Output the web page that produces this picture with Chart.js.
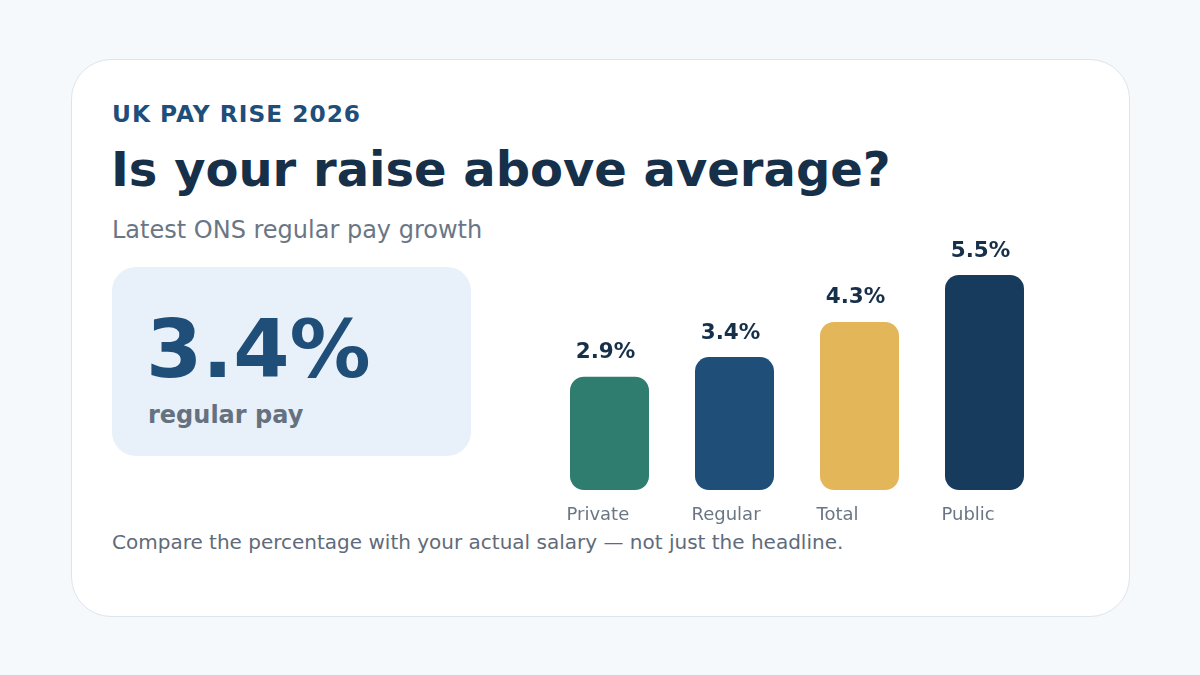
<!DOCTYPE html>
<html>
<head>
<meta charset="utf-8">
<script src="https://cdn.jsdelivr.net/npm/chart.js@4"></script>
<style>
  body { margin:0; width:1200px; height:675px; background:#f5f9fc; font-family:"DejaVu Sans", sans-serif; position:relative; overflow:hidden; }
  .card { position:absolute; left:71px; top:59px; width:1057px; height:556px; background:#fff; border:1px solid #dde5ec; border-radius:40px; }
  .kicker { position:absolute; left:112px; top:100px; font-size:23.3px; font-weight:bold; color:#1f4e79; letter-spacing:1px; }
  .title { position:absolute; left:111px; top:141px; font-size:48px; font-weight:bold; color:#17304a; }
  .sub { position:absolute; left:112px; top:216px; font-size:24px; color:#6b7685; }
  .box { position:absolute; left:112px; top:267px; width:359px; height:189px; background:#e8f1f9; border-radius:24px; }
  .big { position:absolute; left:146px; top:309px; font-size:81px; font-weight:bold; color:#1f4e79; line-height:1; }
  .reg { position:absolute; left:148px; top:401px; font-size:24px; font-weight:bold; color:#667180; }
  .foot { position:absolute; left:112px; top:530px; font-size:20px; color:#5f6b7a; }
  #c { position:absolute; left:547px; top:240px; }
</style>
</head>
<body>
<div class="card"></div>
<div class="kicker">UK PAY RISE 2026</div>
<div class="title">Is your raise above average?</div>
<div class="sub">Latest ONS regular pay growth</div>
<div class="box"></div>
<div class="big">3.4%</div>
<div class="reg">regular pay</div>
<div class="foot">Compare the percentage with your actual salary — not just the headline.</div>
<canvas id="c" width="500" height="290"></canvas>
<script>
// chart data
const categories = ["Private", "Regular", "Total", "Public"];
const values = [2.9, 3.4, 4.3, 5.5];
const barColors = ["#2e7d6f", "#1f4e79", "#e3b65a", "#173b5c"];

// draws "x.x%" above each bar
const valueLabels = {
  id: "valueLabels",
  afterDatasetsDraw(chart) {
    const ctx = chart.ctx;
    const meta = chart.getDatasetMeta(0);
    ctx.save();
    ctx.font = "bold 21.5px 'DejaVu Sans'";
    ctx.fillStyle = "#17304a";
    ctx.textAlign = "center";
    ctx.textBaseline = "middle";
    meta.data.forEach((bar, i) => {
      ctx.fillText(values[i].toFixed(1) + "%", bar.x - 4, bar.y - 24);
    });
    ctx.restore();
  }
};

new Chart(document.getElementById("c"), {
  type: "bar",
  data: {
    labels: categories,
    datasets: [{
      data: values,
      backgroundColor: barColors,
      borderRadius: 14,
      borderSkipped: false,
      barPercentage: 0.632,
      categoryPercentage: 1
    }]
  },
  options: {
    responsive: false,
    animation: false,
    layout: { padding: { top: 35, left: 0, right: 0, bottom: 0 } },
    plugins: { legend: { display: false }, tooltip: { enabled: false } },
    scales: {
      y: { display: false, min: 0, max: 5.5 },
      x: {
        grid: { display: false, drawTicks: false },
        border: { display: false },
        afterFit(scale) { scale.height = 40; scale.paddingLeft = 0; scale.paddingRight = 0; },
        ticks: {
          color: "#6b7685",
          font: { size: 18, family: "DejaVu Sans" },
          padding: 15,
          align: "start",
          labelOffset: -43
        }
      }
    }
  },
  plugins: [valueLabels]
});
</script>
</body>
</html>
